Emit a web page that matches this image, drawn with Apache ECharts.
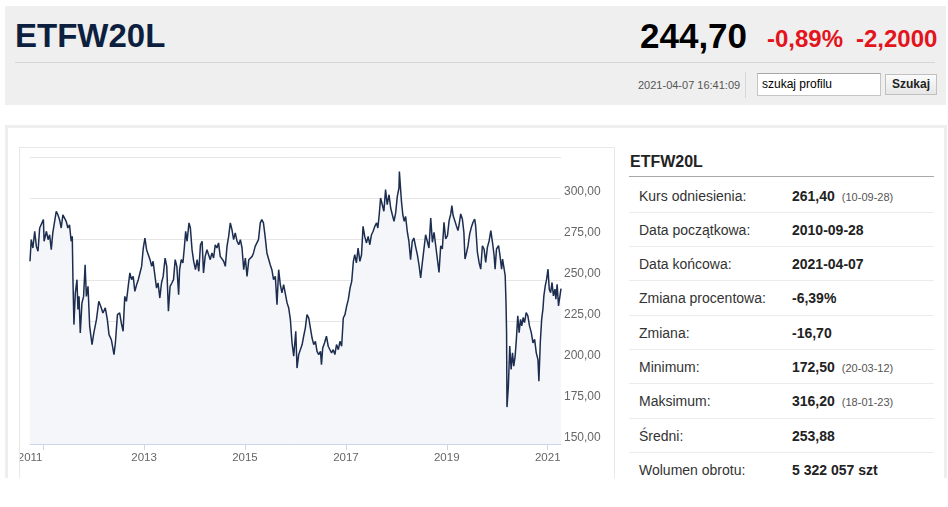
<!DOCTYPE html>
<html>
<head>
<meta charset="utf-8">
<script src="https://cdn.jsdelivr.net/npm/echarts@6.0.0/dist/echarts.min.js"></script>
<style>
  html,body{margin:0;padding:0;background:#fff;width:948px;height:507px;overflow:hidden;}
  body{font-family:"Liberation Sans",Arial,sans-serif;}
  #wrap{position:absolute;left:0;top:0;width:948px;height:478px;overflow:hidden;}
  .abs{position:absolute;white-space:nowrap;}
  .row{position:absolute;left:629px;width:305px;height:34.3px;line-height:34.3px;font-size:14px;color:#333;box-sizing:border-box;}
  .row .lab{position:absolute;left:10px;top:0;}
  .row .val{position:absolute;left:163px;top:0;font-weight:bold;color:#222;}
  .row .note{font-weight:normal;font-size:11px;color:#555;margin-left:7px;}
</style>
</head>
<body>
<div id="wrap">
  <div class="abs" style="left:5px;top:6px;width:941px;height:99px;background:#efefef;"></div>
  <div class="abs" id="title" style="left:15px;top:19px;font-size:33px;line-height:33px;font-weight:bold;color:#0d1f3f;"></div>
  <div class="abs" id="price" style="left:640px;top:18px;font-size:35px;line-height:35px;font-weight:bold;color:#000;"></div>
  <div class="abs" id="pct" style="left:767px;top:26.5px;font-size:24px;line-height:24px;font-weight:bold;color:#e3141c;"></div>
  <div class="abs" id="chg" style="left:856px;top:26.5px;font-size:24px;line-height:24px;font-weight:bold;color:#e3141c;"></div>
  <div class="abs" style="left:15px;top:62px;width:920px;height:1px;background:#d6d6d6;"></div>
  <div class="abs" id="stamp" style="left:638px;top:79.5px;font-size:11px;line-height:11px;color:#555;"></div>
  <div class="abs" style="left:745px;top:72px;width:1px;height:26px;background:#d6d6d6;"></div>
  <div class="abs" id="search" style="left:757px;top:73px;width:124px;height:23px;box-sizing:border-box;border:1px solid #c4c4c4;border-top-color:#a8a8a8;background:#fff;font-size:12px;line-height:21px;padding-left:4px;color:#000;"></div>
  <div class="abs" id="btn" style="left:885px;top:74px;width:52px;height:21px;box-sizing:border-box;border:1px solid #c0c0c0;background:linear-gradient(#fbfbfb,#e6e6e6);font-size:12px;line-height:19px;text-align:center;font-weight:bold;color:#222;"></div>

  <div class="abs" style="left:5px;top:125px;width:942px;height:420px;box-sizing:border-box;border:3px solid #eeeeee;"></div>
  <div class="abs" style="left:19px;top:147px;width:596px;height:360px;box-sizing:border-box;border:1px solid #e8e8e8;"></div>
  <div class="abs" id="chart" style="left:20px;top:148px;width:594px;height:330px;"></div>

  <div class="abs" id="ptitle" style="left:630px;top:153.5px;font-size:16px;line-height:16px;font-weight:bold;color:#222;"></div>
  <div class="abs" style="left:629px;top:176px;width:305px;height:1px;background:#a8a8a8;"></div>
  <div id="rows"></div>
</div>
<script>
// ---- header texts ----
const symbol = 'ETFW20L';
const lastPrice = '244,70';
const changePct = '-0,89%';
const changeAbs = '-2,2000';
const timestamp = '2021-04-07 16:41:09';
const searchPlaceholder = 'szukaj profilu';
const searchButton = 'Szukaj';

// ---- stats table ----
const statLabels = ['Kurs odniesienia:', 'Data początkowa:', 'Data końcowa:', 'Zmiana procentowa:', 'Zmiana:', 'Minimum:', 'Maksimum:', 'Średni:', 'Wolumen obrotu:'];
const statValues = ['261,40', '2010-09-28', '2021-04-07', '-6,39%', '-16,70', '172,50', '316,20', '253,88', '5 322 057 szt'];
const statNotes  = ['(10-09-28)', '', '', '', '', '(20-03-12)', '(18-01-23)', '', ''];

// ---- chart data ----
const xTickLabels = ['2011', '2013', '2015', '2017', '2019', '2021'];
const startDate = '2010-09-28';
const endDate = '2021-04-07';
const yMin = 150, yMax = 325, yStep = 25;

const dates = [
'2010-09-28','2010-10-07','2010-10-19','2010-11-01','2010-11-13','2010-11-25','2010-12-07','2010-12-19',
'2011-01-03','2011-01-08','2011-01-25','2011-02-06','2011-02-17','2011-03-01','2011-03-12','2011-03-24',
'2011-04-06','2011-04-18','2011-04-30','2011-05-12','2011-05-24','2011-06-05','2011-06-17','2011-06-29',
'2011-07-11','2011-07-23','2011-07-31','2011-08-05','2011-08-12','2011-08-22','2011-09-03','2011-09-10',
'2011-09-18','2011-09-27','2011-10-09','2011-10-21','2011-11-01','2011-11-10','2011-11-22','2011-12-04',
'2011-12-21','2012-01-03','2012-01-22','2012-02-08','2012-02-22','2012-03-09','2012-03-26','2012-04-10',
'2012-04-22','2012-05-09','2012-05-28','2012-06-07','2012-06-22','2012-07-08','2012-07-20','2012-08-02',
'2012-08-14','2012-08-26','2012-09-08','2012-09-20','2012-10-02','2012-10-14','2012-10-26','2012-11-08',
'2012-11-20','2012-12-02','2012-12-14','2012-12-26','2013-01-07','2013-01-19','2013-02-01','2013-02-13',
'2013-02-25','2013-03-07','2013-03-19','2013-04-01','2013-04-12','2013-04-25','2013-05-07','2013-05-19',
'2013-06-02','2013-06-14','2013-06-26','2013-07-08','2013-07-20','2013-08-02','2013-08-14','2013-08-26',
'2013-09-08','2013-09-15','2013-09-27','2013-10-09','2013-10-19','2013-10-29','2013-11-08','2013-11-22',
'2013-12-02','2013-12-14','2013-12-26','2014-01-08','2014-01-20','2014-02-01','2014-02-13','2014-02-25',
'2014-03-07','2014-03-19','2014-04-01','2014-04-13','2014-04-25','2014-05-07','2014-05-19','2014-05-31',
'2014-06-12','2014-06-24','2014-07-06','2014-07-18','2014-07-31','2014-08-12','2014-08-24','2014-09-05',
'2014-09-17','2014-09-29','2014-10-11','2014-10-23','2014-11-05','2014-11-17','2014-11-29','2014-12-11',
'2014-12-23','2015-01-04','2015-01-16','2015-01-29','2015-02-10','2015-02-22','2015-03-04','2015-03-16',
'2015-03-28','2015-04-09','2015-04-22','2015-05-03','2015-05-15','2015-05-27','2015-06-09','2015-06-21',
'2015-07-03','2015-07-15','2015-07-27','2015-08-09','2015-08-21','2015-09-02','2015-09-14','2015-09-26',
'2015-10-08','2015-10-20','2015-11-02','2015-11-14','2015-11-26','2015-12-08','2015-12-20','2016-01-04',
'2016-01-13','2016-01-25','2016-02-07','2016-02-19','2016-03-01','2016-03-13','2016-03-25','2016-04-07',
'2016-04-19','2016-05-01','2016-05-13','2016-05-25','2016-06-06','2016-06-18','2016-07-01','2016-07-08',
'2016-07-17','2016-07-30','2016-08-13','2016-08-26','2016-09-07','2016-09-19','2016-10-01','2016-10-13',
'2016-10-25','2016-11-07','2016-11-19','2016-12-01','2016-12-13','2016-12-25','2017-01-06','2017-01-18',
'2017-01-31','2017-02-12','2017-02-24','2017-03-06','2017-03-18','2017-03-30','2017-04-12','2017-04-24',
'2017-05-05','2017-05-17','2017-05-30','2017-06-11','2017-06-23','2017-07-05','2017-07-17','2017-07-29',
'2017-08-11','2017-08-20','2017-08-30','2017-09-09','2017-09-21','2017-10-03','2017-10-15','2017-10-27',
'2017-11-09','2017-11-21','2017-12-03','2017-12-15','2017-12-27','2018-01-08','2018-01-20','2018-01-23',
'2018-02-07','2018-02-17','2018-02-27','2018-03-09','2018-03-21','2018-04-02','2018-04-14','2018-04-26',
'2018-05-08','2018-05-20','2018-06-02','2018-06-14','2018-06-26','2018-07-08','2018-07-20','2018-08-01',
'2018-08-13','2018-08-25','2018-09-07','2018-09-19','2018-10-01','2018-10-13','2018-10-25','2018-11-06',
'2018-11-18','2018-11-30','2018-12-12','2018-12-24','2019-01-06','2019-01-18','2019-01-30','2019-02-07',
'2019-02-16','2019-02-28','2019-03-11','2019-03-23','2019-03-30','2019-04-12','2019-04-24','2019-05-05',
'2019-05-13','2019-05-22','2019-06-04','2019-06-16','2019-06-28','2019-07-10','2019-07-22','2019-07-29',
'2019-08-11','2019-08-23','2019-09-04','2019-09-16','2019-09-28','2019-10-10','2019-10-22','2019-11-04',
'2019-11-16','2019-11-28','2019-12-10','2019-12-17','2019-12-27','2020-01-11','2020-01-20','2020-02-02',
'2020-02-09','2020-02-21','2020-02-28','2020-03-05','2020-03-09','2020-03-12','2020-03-22','2020-04-01',
'2020-04-11','2020-04-21','2020-04-30','2020-05-10','2020-05-19','2020-05-29','2020-06-08','2020-06-18',
'2020-06-27','2020-07-07','2020-07-17','2020-07-29','2020-08-10','2020-08-22','2020-09-04','2020-09-16',
'2020-09-28','2020-10-10','2020-10-22','2020-10-29','2020-11-08','2020-11-18','2020-11-27','2020-12-04',
'2020-12-14','2020-12-24','2021-01-03','2021-01-12','2021-01-22','2021-02-01','2021-02-11','2021-02-22',
'2021-03-01','2021-03-10','2021-03-20','2021-04-07'
];
const values = [
261.4,274.6,269.5,279.7,270.5,267.5,281.7,280.7,
286.8,273.6,279.7,274.6,277.6,268.5,278.7,279.7,
291.9,289.8,286.8,281.7,289.8,288.8,285.8,281.7,
283.7,273.6,276.6,250.2,222.8,242.0,250.2,232.0,
240.0,217.7,236.0,240.0,259.3,240.0,246.1,221.7,
210.6,217.7,225.8,237.0,234.0,229.9,233.0,225.8,
216.7,213.6,204.5,211.6,228.9,229.9,223.8,218.7,
240.0,237.0,246.1,254.3,250.2,252.2,243.1,247.2,
250.2,254.3,258.3,269.5,275.6,268.5,269.5,262.4,
258.3,261.4,262.4,245.1,248.2,239.0,248.2,252.2,
263.4,258.3,230.9,246.1,248.0,250.2,262.4,258.3,
241.1,256.3,262.4,260.4,269.5,279.7,273.6,284.8,
281.7,268.5,261.4,256.3,262.4,255.3,271.5,273.6,
254.3,264.4,268.5,267.5,262.4,266.5,263.4,271.5,
269.5,272.6,264.4,265.5,261.4,258.3,270.5,276.6,
284.8,280.7,274.6,278.7,273.6,271.5,274.6,269.5,
256.3,263.4,252.2,262.4,263.4,264.4,266.5,270.5,
269.5,274.6,284.8,286.8,284.8,276.6,266.5,265.5,
259.3,256.3,250.2,252.2,235.0,256.3,247.2,242.1,
247.2,246.1,236.0,232.9,225.8,211.6,203.5,218.7,
196.3,204.5,203.5,210.6,215.7,220.7,228.9,226.8,
220.7,214.6,210.6,212.6,206.5,204.5,206.5,198.4,
208.5,211.6,215.7,209.6,210.6,205.5,207.5,204.5,
210.6,207.5,212.6,209.6,226.8,228.9,233.9,238.0,
245.1,249.2,261.4,265.4,260.4,269.5,261.4,265.4,
282.7,276.6,272.6,276.6,271.5,277.6,279.7,282.7,
284.8,281.7,289.8,300.0,299.0,291.9,305.1,295.9,
302.0,293.9,289.8,285.8,290.9,301.0,306.1,316.2,
298.0,289.8,285.8,288.8,279.7,273.6,262.4,273.6,
275.6,270.5,265.5,259.3,251.2,260.4,261.4,277.6,
273.6,269.5,287.8,273.0,279.1,280.1,262.8,254.6,
270.9,268.9,285.2,275.0,277.0,286.2,290.3,295.4,
289.3,286.2,283.2,280.1,283.2,290.3,287.2,279.1,
262.8,265.8,270.9,278.1,282.1,285.2,287.2,283.2,
266.8,260.7,256.6,270.9,268.9,260.7,269.9,274.0,
280.1,273.0,264.8,256.6,268.9,270.9,265.8,256.6,
262.8,261.7,252.6,236.0,218.0,172.5,185.2,209.7,
195.4,205.6,197.4,203.6,213.8,228.1,217.9,226.0,
222.0,227.1,224.0,230.1,228.1,222.0,217.9,211.7,
213.8,205.6,201.5,188.3,211.7,226.0,232.1,240.3,
246.4,250.5,256.6,244.4,242.3,248.5,240.3,244.4,
238.3,247.4,234.2,244.7
];

// ---- fill texts ----
document.getElementById('title').textContent = symbol;
document.getElementById('price').textContent = lastPrice;
document.getElementById('pct').textContent = changePct;
document.getElementById('chg').textContent = changeAbs;
document.getElementById('stamp').textContent = timestamp;
document.getElementById('search').textContent = searchPlaceholder;
document.getElementById('btn').textContent = searchButton;
document.getElementById('ptitle').textContent = symbol;

const rowsEl = document.getElementById('rows');
statLabels.forEach(function (lab, i) {
  const r = document.createElement('div');
  r.className = 'row';
  r.style.top = (178.5 + 34.3 * i) + 'px';
  if (i < statLabels.length - 1) r.style.borderBottom = '1px solid #ececec';
  const l = document.createElement('span'); l.className = 'lab'; l.textContent = lab;
  const v = document.createElement('span'); v.className = 'val'; v.textContent = statValues[i];
  if (statNotes[i]) { const n = document.createElement('span'); n.className = 'note'; n.textContent = statNotes[i]; v.appendChild(n); }
  r.appendChild(l); r.appendChild(v);
  rowsEl.appendChild(r);
});

// ---- chart ----
function ts(s) { const p = s.split('-'); return Date.UTC(+p[0], +p[1] - 1, +p[2]); }
const tickValues = xTickLabels.map(function (y) { return Date.UTC(+y, 0, 1); });
const seriesData = dates.map(function (d, i) { return [ts(d), values[i]]; });

const chart = echarts.init(document.getElementById('chart'));
chart.setOption({
  animation: false,
  grid: { left: 10, right: 53, top: 9, bottom: 34, containLabel: false, outerBoundsMode: 'none' },
  xAxis: {
    type: 'value',
    min: ts(startDate),
    max: ts(endDate),
    splitLine: { show: false },
    axisLine: { show: true, lineStyle: { color: '#ccd6eb', width: 1 } },
    axisTick: { show: true, customValues: tickValues, length: 6, lineStyle: { color: '#ccd6eb' } },
    axisLabel: {
      customValues: tickValues,
      color: '#666', fontSize: 11.5, margin: 8,
      fontFamily: '"Liberation Sans", Arial, sans-serif',
      formatter: function (v) {
        const y = String(new Date(v).getUTCFullYear());
        return y === xTickLabels[0] ? '{first|' + y + '}' : y;
      },
      rich: { first: { color: '#666', fontSize: 11.5, fontFamily: '"Liberation Sans", Arial, sans-serif', padding: [0, 26, 0, 0] } }
    }
  },
  yAxis: {
    type: 'value',
    position: 'right',
    min: yMin, max: yMax, interval: yStep,
    axisLine: { show: false },
    axisTick: { show: false },
    splitLine: { lineStyle: { color: '#e6e6e6', width: 1 } },
    axisLabel: {
      color: '#666', fontSize: 12, margin: 3,
      fontFamily: '"Liberation Sans", Arial, sans-serif',
      verticalAlign: 'bottom',
      formatter: function (v) { return v === yMax ? '' : v.toFixed(2).replace('.', ','); }
    }
  },
  series: [{
    type: 'line',
    data: seriesData,
    showSymbol: false,
    symbol: 'none',
    lineStyle: { color: '#1c2d4f', width: 1.5 },
    areaStyle: { color: '#f5f6f9', opacity: 1, origin: 'start' },
    emphasis: { disabled: true }
  }]
});
</script>
</body>
</html>
